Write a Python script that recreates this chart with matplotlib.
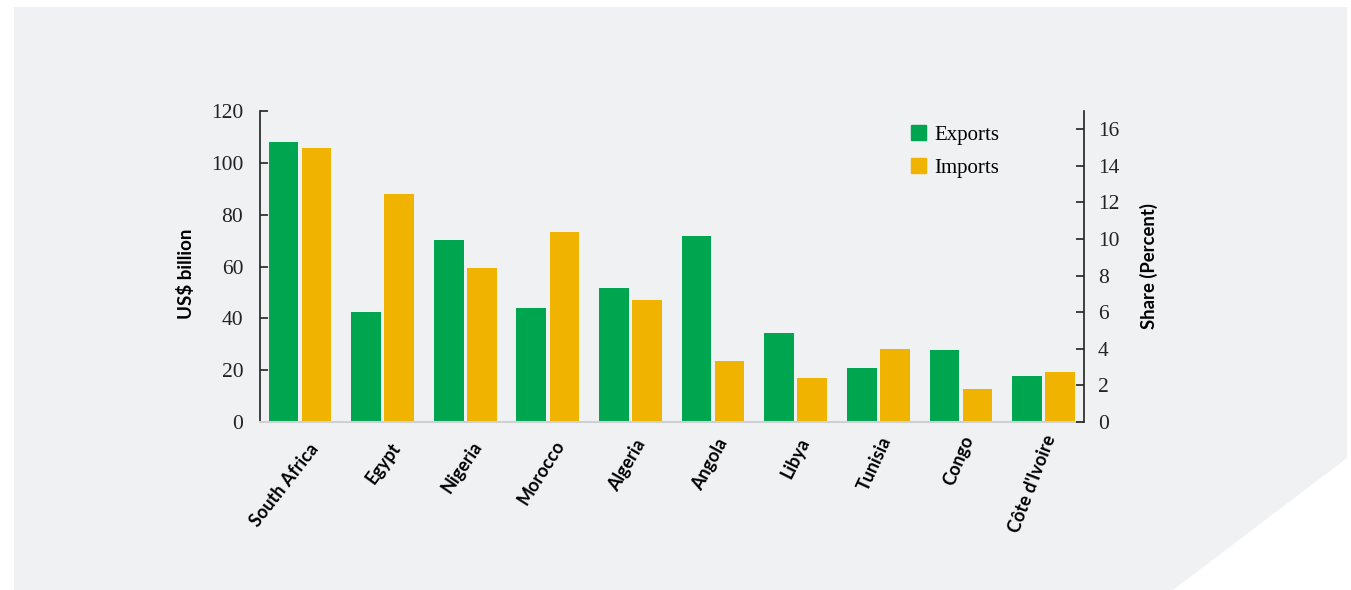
import numpy as np
import matplotlib
matplotlib.use("Agg")
import matplotlib.pyplot as plt
import matplotlib.transforms as mtransforms
from matplotlib.patches import Polygon, Patch

# trade with Africa's top partners, US$ billion
countries = ["South Africa", "Egypt", "Nigeria", "Morocco", "Algeria",
             "Angola", "Libya", "Tunisia", "Congo", "Côte d'Ivoire"]
exports = [108.1, 42.3, 70.2, 43.9, 51.7, 71.6, 34.3, 20.9, 27.9, 17.6]
imports = [105.8, 88.0, 59.5, 73.2, 47.1, 23.6, 17.0, 28.0, 12.6, 19.1]

left_ticks = [0, 20, 40, 60, 80, 100, 120]
right_ticks = [0, 2, 4, 6, 8, 10, 12, 14, 16]

green = "#00a54f"
gold = "#f0b400"
panel = "#f0f1f3"
serif = ["Liberation Serif", "DejaVu Serif"]
sans = ["Lato", "DejaVu Sans"]

W, H = 1351, 590
fig = plt.figure(figsize=(W / 100, H / 100), dpi=100, facecolor="white")

# grey backdrop with the clipped bottom-right corner
pts = [(14, 7), (1347, 7), (1347, 458), (1173, 590), (14, 590)]
fig.add_artist(Polygon([(x / W, 1 - y / H) for x, y in pts], closed=True,
                       transform=fig.transFigure, facecolor=panel,
                       edgecolor="none", zorder=0))

ax = fig.add_axes([260 / W, 1 - 422 / H, 824 / W, 311 / H])
ax.set_facecolor("none")
x = np.arange(len(countries))
w = 0.36
ax.bar(x - 0.2, exports, w, color=green, label="Exports", zorder=2)
ax.bar(x + 0.2, imports, w, color=gold, label="Imports", zorder=2)

ax.set_xlim(-0.485, 9.49)
ax.set_ylim(0, 120)
ax.set_yticks(left_ticks)
for s in ["top", "right"]:
    ax.spines[s].set_visible(False)
ax.spines["left"].set_color("#222222")
ax.spines["left"].set_linewidth(1.2)
ax.spines["bottom"].set_color("#cfd0d3")
ax.spines["bottom"].set_linewidth(1.5)
ax.tick_params(axis="y", direction="in", length=6, width=1.2,
               pad=12, labelsize=15.5, colors="#222222")
for t in ax.get_yticklabels():
    t.set_family(serif)
ax.set_xticks(x)
ax.set_xticklabels(countries, ha="right", va="center",
                   rotation_mode="anchor", fontsize=13, fontweight="bold",
                   family=sans)
ax.tick_params(axis="x", length=0, pad=17)
# labels fan out a little, steeper towards the right
angles = np.linspace(52, 69, len(countries))
for t, a in zip(ax.get_xticklabels(), angles):
    t.set_rotation(a)
    k = (a - 52) / 17
    off = mtransforms.ScaledTranslation(0.15 - 0.08 * k, 0.10 * k,
                                        fig.dpi_scale_trans)
    t.set_transform(t.get_transform() + off)
ax.set_ylabel("US$ billion", fontsize=13.5, fontweight="bold", family=sans)
ax.yaxis.set_label_coords(-0.079, 0.476)

ax2 = ax.twinx()
ax2.set_ylim(0, 17)
ax2.set_yticks(right_ticks)
for s in ["top", "left", "bottom"]:
    ax2.spines[s].set_visible(False)
ax2.spines["right"].set_color("#222222")
ax2.spines["right"].set_linewidth(1.2)
ax2.tick_params(axis="y", direction="in", length=6, width=1.2,
                pad=10, labelsize=15.5, colors="#222222")
for t in ax2.get_yticklabels():
    t.set_family(serif)
ax2.set_ylabel("Share (Percent)", fontsize=13.3, fontweight="bold",
               family=sans, labelpad=15)

handles = [Patch(color=green), Patch(color=gold)]
ax.legend(handles, ["Exports", "Imports"], loc="upper left",
          bbox_to_anchor=(0.78, 0.982), borderaxespad=0, frameon=False,
          handlelength=0.7, handleheight=0.7, handletextpad=0.4,
          labelspacing=0.65, prop={"family": serif, "size": 15})

fig.savefig("out.png", dpi=100, facecolor="white")
